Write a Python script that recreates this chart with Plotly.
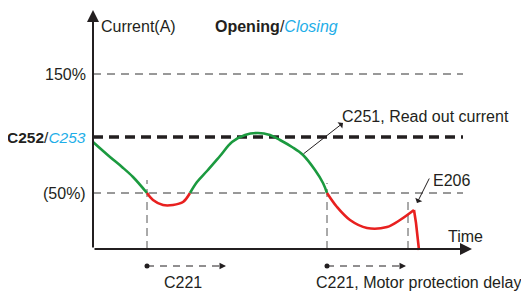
import plotly.graph_objects as go

# ---- data (schematic units: time t, current c) ----
green1_t = [0, 17, 29, 40, 54]
green1_c = [107, 92, 82, 72, 56]
red1_t = [54, 60, 70, 80, 90, 97]
red1_c = [56, 49, 44, 44, 47, 56]
green2_t = [97, 104, 114, 127, 139, 152, 165, 177, 187, 199, 210, 222, 230, 234]
green2_c = [56, 67, 78, 93, 107, 114, 116, 114, 109, 102, 94, 79, 66, 56]
red2_t = [234, 244, 257, 274, 294, 307, 321]
red2_c = [56, 42, 29, 21, 22, 29, 39]
drop_t = [321, 323, 326]
drop_c = [39, 26, -1]

level_labels = ["150%", "<b>C252</b>/<i><span style='color:#1eaee8'>C253</span></i>", "(50%)"]
level_values = [175, 112, 56]
level_widths = [1, 3.5, 1]

vline_t = [54, 234, 315]
vline_top = [69, 66, 52]

delay_start = [54, 234]
delay_end = [133, 313]
delay_labels = ["C221", "C221, Motor protection delay"]
delay_label_t = [90, 325]

t_end = 379
c_top = 239
grid_end = 370

DARK = "#231f20"
GREEN = "#1b9a3f"
RED = "#e8201f"
FONT = "Arial, Liberation Sans, sans-serif"

fig = go.Figure()
for t, c, col, shp in [(green1_t, green1_c, GREEN, "spline"), (red1_t, red1_c, RED, "spline"),
                       (green2_t, green2_c, GREEN, "spline"), (red2_t, red2_c, RED, "spline"),
                       (drop_t, drop_c, RED, "linear")]:
    fig.add_trace(go.Scatter(x=t, y=c, mode="lines", line=dict(color=col, width=2.6, shape=shp),
                             hoverinfo="skip", showlegend=False, cliponaxis=False))

shapes = []
for v, w in zip(level_values, level_widths):
    dash = "10px,6px" if w > 2 else "8px,6px"
    shapes.append(dict(type="line", x0=0, x1=grid_end, y0=v, y1=v, xref="x", yref="y",
                       line=dict(color=DARK if w > 2 else "#333", width=w, dash=dash), layer="below"))
for t, top in zip(vline_t, vline_top):
    shapes.append(dict(type="line", x0=t, x1=t, y0=0, y1=top, xref="x", yref="y",
                       line=dict(color="#555", width=1, dash="8px,5px"), layer="below"))
for s, e in zip(delay_start, delay_end):
    shapes.append(dict(type="line", x0=s, x1=e - 6, y0=-17, y1=-17, xref="x", yref="y",
                       line=dict(color=DARK, width=1, dash="7px,6px")))
fig.add_trace(go.Scatter(x=delay_start, y=[-17] * len(delay_start), mode="markers",
                         marker=dict(color=DARK, size=5), hoverinfo="skip", showlegend=False))

ann = []
# axes
ann.append(dict(x=0, y=c_top, ax=0, ay=0, xref="x", yref="y", axref="x", ayref="y", text="",
                showarrow=True, arrowhead=2, arrowsize=1.2, arrowwidth=2, arrowcolor=DARK))
ann.append(dict(x=t_end, y=0, ax=0, ay=0, xref="x", yref="y", axref="x", ayref="y", text="",
                showarrow=True, arrowhead=2, arrowsize=1.2, arrowwidth=2, arrowcolor=DARK))
# delay arrowheads
for e in delay_end:
    ann.append(dict(x=e, y=-17, ax=e - 7, ay=-17, xref="x", yref="y", axref="x", ayref="y", text="",
                    showarrow=True, arrowhead=2, arrowsize=1.3, arrowwidth=1, arrowcolor=DARK))
# pointer arrows
ann.append(dict(x=250, y=126, ax=209, ay=94, xref="x", yref="y", axref="x", ayref="y", text="",
                showarrow=True, arrowhead=1, arrowsize=1.3, arrowwidth=1, arrowcolor=DARK))
ann.append(dict(x=324, y=46, ax=337, ay=72, xref="x", yref="y", axref="x", ayref="y", text="",
                showarrow=True, arrowhead=1, arrowsize=1.3, arrowwidth=1, arrowcolor=DARK))

def txt(x, y, s, xanchor="left", size=16, **kw):
    d = dict(x=x, y=y, xref="x", yref="y", text=s, showarrow=False, xanchor=xanchor,
             yanchor="middle", font=dict(family=FONT, size=size, color=DARK))
    d.update(kw)
    return d

ann.append(txt(6, 223, "Current(A)"))
ann.append(txt(120, 223, "<b>Opening</b>/<i><span style='color:#1eaee8'>Closing</span></i>"))
for lab, v in zip(level_labels, level_values):
    ann.append(txt(-5, v, lab, xanchor="right", size=15.5 if "C252" in lab else 16))
ann.append(txt(353, 13, "Time"))
ann.append(txt(247, 133, "C251, Read out current"))
ann.append(txt(338, 69, "E206"))
for lab, t in zip(delay_labels, delay_label_t):
    ann.append(txt(t, -33, lab, xanchor="center"))

# page body has an 8px default margin: the figure is sized/ranged to compensate
fig.update_layout(
    width=521, height=283, margin=dict(l=0, r=0, t=0, b=0),
    paper_bgcolor="white", plot_bgcolor="white",
    xaxis=dict(visible=False, range=[-85, 436], fixedrange=True),
    yaxis=dict(visible=False, range=[-42, 241], fixedrange=True),
    shapes=shapes, annotations=ann, showlegend=False,
)
fig.write_html("out.html")
